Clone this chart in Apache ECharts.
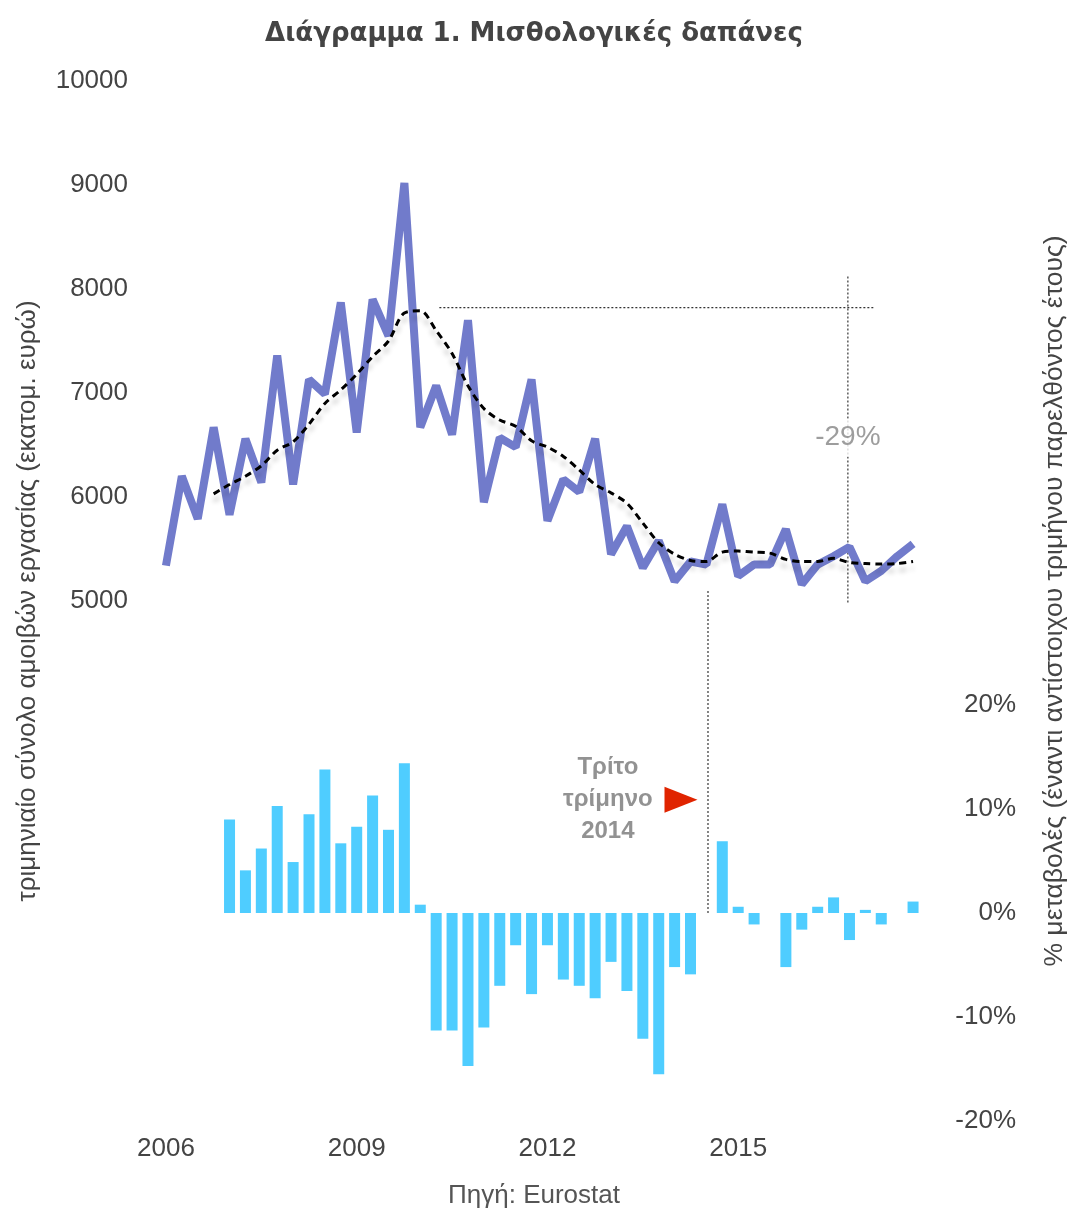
<!DOCTYPE html>
<html>
<head>
<meta charset="utf-8">
<title>Μισθολογικές δαπάνες</title>
<script src="https://cdn.jsdelivr.net/npm/echarts@6/dist/echarts.min.js"></script>
<style>
  html, body { margin: 0; padding: 0; background: #fff; }
  #chart { width: 1068px; height: 1208px; }
</style>
</head>
<body>
<div id="chart"></div>
<script>
// τρίμηνα 2006 Q1 - 2017 Q4
var quarters = [
  '2006 Q1', '2006 Q2', '2006 Q3', '2006 Q4', '2007 Q1', '2007 Q2', '2007 Q3', '2007 Q4',
  '2008 Q1', '2008 Q2', '2008 Q3', '2008 Q4', '2009 Q1', '2009 Q2', '2009 Q3', '2009 Q4',
  '2010 Q1', '2010 Q2', '2010 Q3', '2010 Q4', '2011 Q1', '2011 Q2', '2011 Q3', '2011 Q4',
  '2012 Q1', '2012 Q2', '2012 Q3', '2012 Q4', '2013 Q1', '2013 Q2', '2013 Q3', '2013 Q4',
  '2014 Q1', '2014 Q2', '2014 Q3', '2014 Q4', '2015 Q1', '2015 Q2', '2015 Q3', '2015 Q4',
  '2016 Q1', '2016 Q2', '2016 Q3', '2016 Q4', '2017 Q1', '2017 Q2', '2017 Q3', '2017 Q4'
]
var yearTicks = ['2006', '2009', '2012', '2015']

// τριμηνιαίο σύνολο αμοιβών (εκατ. ευρώ)
var wages = [
  5340, 6200, 5790, 6670, 5830, 6560, 6140, 7360,
  6120, 7130, 6990, 7870, 6620, 7900, 7550, 9020,
  6670, 7070, 6600, 7700, 5950, 6570, 6480, 7130,
  5770, 6170, 6050, 6560, 5450, 5720, 5320, 5580,
  5190, 5380, 5350, 5930, 5240, 5350, 5350, 5690,
  5160, 5350, 5430, 5520, 5190, 5290, 5430, 5550
]
// κινητός μέσος όρος (διακεκομμένη)
var wagesAvg = [
  null, null, null, 6030, 6120, 6200, 6300, 6450,
  6530, 6700, 6900, 7030, 7180, 7350, 7500, 7770,
  7790, 7600, 7380, 7070, 6850, 6740, 6680, 6540,
  6480, 6390, 6260, 6120, 6040, 5940, 5750, 5560,
  5450, 5390, 5380, 5470, 5480, 5470, 5460, 5400,
  5380, 5380, 5410, 5370, 5360, 5355, 5360, 5380
]
// % μεταβολή έναντι αντίστοιχου τριμήνου
var yoyChange = [
  null, null, null, null, 9.0, 4.1, 6.2, 10.3,
  4.9, 9.5, 13.8, 6.7, 8.3, 11.3, 8.0, 14.4,
  0.8, -11.3, -11.3, -14.7, -11.0, -7.0, -3.1, -7.8,
  -3.1, -6.4, -7.0, -8.2, -4.7, -7.5, -12.1, -15.5,
  -5.2, -5.9, 0, 6.9, 0.6, -1.1, 0, -5.2,
  -1.6, 0.6, 1.5, -2.6, 0.3, -1.1, 0, 1.1
]

// σημειώσεις (θέση τριμήνου, τιμή)
var peakLine = [[17.2, 7820], [44.5, 7820]]
var dropLine = [[42.9, 8120], [42.9, 4980]]
var dropLabel = [[42.9, 6570]]
var q3Line = [[34.1, 0], [34.1, 31]]
var q3Text = [[27.8, 10.9]]
var q3Arrow = [[32.4, 10.9]]

var textColor = '#444'
var font = '"Liberation Sans", Arial, sans-serif'

var chart = echarts.init(document.getElementById('chart'))
chart.setOption({
  animation: false,
  textStyle: { fontFamily: font },
  title: [
    {
      text: 'Διάγραμμα 1. Μισθολογικές δαπάνες',
      left: 'center',
      top: 16,
      textStyle: { fontFamily: '"DejaVu Sans", sans-serif', fontSize: 26, fontWeight: 'bold', color: textColor }
    },
    {
      text: 'Πηγή: Eurostat',
      left: 'center',
      top: 1178,
      textStyle: { fontSize: 26, fontWeight: 'normal', color: '#555' }
    }
  ],
  grid: { left: 158, right: 147, top: 81, bottom: 87, outerBoundsMode: 'none' },
  xAxis: [
    {
      type: 'category',
      data: quarters,
      boundaryGap: true,
      axisLine: { show: false },
      axisTick: { show: false },
      axisLabel: {
        color: textColor,
        fontSize: 26,
        margin: 15,
        interval: function (idx, val) {
          return val.slice(5) === 'Q1' && yearTicks.indexOf(val.slice(0, 4)) >= 0
        },
        formatter: function (val) { return val.slice(0, 4) }
      }
    },
    {
      type: 'value',
      min: -0.5,
      max: 47.5,
      show: false
    }
  ],
  yAxis: [
    {
      type: 'value',
      min: 0,
      max: 10000,
      interval: 1000,
      name: 'τριμηνιαίο σύνολο αμοιβών εργασίας (εκατομ. ευρώ)',
      nameLocation: 'middle',
      nameRotate: 90,
      nameGap: 117,
      nameTextStyle: { color: textColor, fontSize: 26 },
      axisLine: { show: false },
      axisTick: { show: false },
      splitLine: { show: false },
      axisLabel: {
        color: textColor,
        fontSize: 26,
        margin: 30,
        formatter: function (v) { return v >= 5000 ? String(v) : '' }
      }
    },
    {
      type: 'value',
      min: -20,
      max: 80,
      interval: 10,
      position: 'right',
      name: '% μεταβολές (έναντι αντίστοιχου τριμήνου παρελθόντος έτους)',
      nameLocation: 'middle',
      nameRotate: 90,
      nameGap: 120,
      nameTextStyle: { color: textColor, fontSize: 26.5 },
      axisLine: { show: false },
      axisTick: { show: false },
      splitLine: { show: false },
      axisLabel: {
        color: textColor,
        fontSize: 26,
        margin: 95,
        align: 'right',
        formatter: function (v) { return v <= 20 ? v + '%' : '' }
      }
    }
  ],
  series: [
    {
      name: 'μεταβολή',
      type: 'bar',
      xAxisIndex: 0,
      yAxisIndex: 1,
      data: yoyChange,
      barWidth: 11,
      itemStyle: { color: '#4fcdff' },
      silent: true
    },
    {
      name: 'αμοιβές',
      type: 'line',
      xAxisIndex: 0,
      yAxisIndex: 0,
      data: wages,
      symbol: 'none',
      lineStyle: { color: '#717bcb', width: 8, join: 'bevel' },
      z: 3
    },
    {
      name: 'μέσος όρος',
      type: 'line',
      xAxisIndex: 0,
      yAxisIndex: 0,
      data: wagesAvg,
      symbol: 'none',
      smooth: 0.3,
      lineStyle: {
        color: '#000',
        width: 3,
        type: [7, 5],
        shadowColor: 'rgba(0,0,0,0.22)',
        shadowBlur: 5,
        shadowOffsetY: 7
      },
      z: 4
    },
    {
      type: 'line',
      xAxisIndex: 1,
      yAxisIndex: 0,
      data: peakLine,
      symbol: 'none',
      silent: true,
      lineStyle: { color: '#333', width: 1.2, type: [2, 2] },
      z: 2
    },
    {
      type: 'line',
      xAxisIndex: 1,
      yAxisIndex: 0,
      data: dropLine,
      symbol: 'none',
      silent: true,
      lineStyle: { color: '#333', width: 1.2, type: [2, 2] },
      z: 2
    },
    {
      type: 'line',
      xAxisIndex: 1,
      yAxisIndex: 1,
      data: q3Line,
      symbol: 'none',
      silent: true,
      lineStyle: { color: '#333', width: 1.2, type: [2, 2] },
      z: 2
    },
    {
      type: 'scatter',
      xAxisIndex: 1,
      yAxisIndex: 0,
      data: dropLabel,
      symbolSize: 1,
      itemStyle: { color: 'rgba(0,0,0,0)' },
      silent: true,
      z: 6,
      label: {
        show: true,
        position: 'inside',
        formatter: '-29%',
        color: '#858585',
        fontSize: 28,
        backgroundColor: '#fff',
        padding: [5, 2]
      }
    },
    {
      type: 'scatter',
      xAxisIndex: 1,
      yAxisIndex: 1,
      data: q3Text,
      symbolSize: 1,
      itemStyle: { color: 'rgba(0,0,0,0)' },
      silent: true,
      z: 6,
      label: {
        show: true,
        position: 'inside',
        formatter: 'Τρίτο\nτρίμηνο\n2014',
        color: '#777',
        fontSize: 24,
        fontWeight: 'bold',
        lineHeight: 32,
        align: 'center'
      }
    },
    {
      type: 'scatter',
      xAxisIndex: 1,
      yAxisIndex: 1,
      data: q3Arrow,
      symbol: 'triangle',
      symbolSize: [26, 33],
      symbolRotate: -90,
      itemStyle: { color: '#e02400', opacity: 1 },
      silent: true,
      z: 6
    }
  ]
})
</script>
</body>
</html>
